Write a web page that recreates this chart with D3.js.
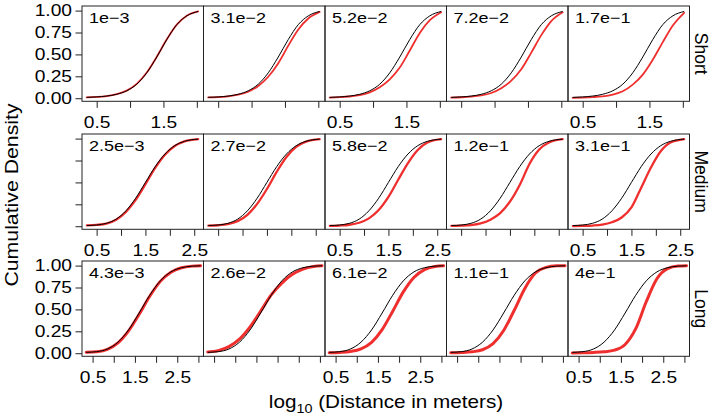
<!DOCTYPE html>
<html><head><meta charset="utf-8">
<script src="https://cdn.jsdelivr.net/npm/d3@7"></script>
<style>
body{margin:0;background:#fff}
svg{display:block}
text{font-family:"Liberation Sans",Arial,Helvetica,sans-serif}
</style>
</head><body>
<svg id="c" width="714" height="416"></svg>
<script>
// ---------- data ----------
const rowNames = ["Short", "Medium", "Long"];
const panelLabels = [
  ["1e\u22123", "3.1e\u22122", "5.2e\u22122", "7.2e\u22122", "1.7e\u22121"],
  ["2.5e\u22123", "2.7e\u22122", "5.8e\u22122", "1.2e\u22121", "3.1e\u22121"],
  ["4.3e\u22123", "2.6e\u22122", "6.1e\u22122", "1.1e\u22121", "4e\u22121"]
];
const xDomains = [[0.28, 2.10], [0.2, 2.69], [0.25, 3.12]];
const xTicks = [[0.5, 1, 1.5, 2], [0.5, 1, 1.5, 2, 2.5], [0.5, 1, 1.5, 2, 2.5, 3]];
const xTickLabels = [[0.5, 1.5], [0.5, 1.5, 2.5], [0.5, 1.5, 2.5]];
const yTicks = [0, 0.25, 0.5, 0.75, 1];
const yTickLabels = ["0.00", "0.25", "0.50", "0.75", "1.00"];
const yLabelRows = [true, false, true];

const xShort = [0.35, 0.5, 0.65, 0.8, 0.95, 1.1, 1.25, 1.4, 1.55, 1.7, 1.85, 2.02];
const blackShort = [0.01, 0.015, 0.025, 0.045, 0.085, 0.16, 0.29, 0.47, 0.67, 0.84, 0.94, 0.99];
const redShort = [
  [0.01, 0.015, 0.025, 0.046, 0.087, 0.163, 0.293, 0.473, 0.672, 0.84, 0.94, 0.99],
  [0.009, 0.013, 0.022, 0.04, 0.074, 0.14, 0.245, 0.4, 0.6, 0.785, 0.91, 0.985],
  [0.008, 0.012, 0.02, 0.035, 0.067, 0.125, 0.215, 0.35, 0.545, 0.745, 0.89, 0.982],
  [0.007, 0.011, 0.018, 0.032, 0.06, 0.115, 0.2, 0.33, 0.52, 0.72, 0.88, 0.98],
  [0.005, 0.008, 0.013, 0.022, 0.042, 0.08, 0.155, 0.27, 0.44, 0.64, 0.83, 0.975]
];

const xMedium = [0.3, 0.5, 0.7, 0.9, 1.1, 1.3, 1.5, 1.7, 1.9, 2.1, 2.3, 2.58];
const blackMedium = [0.008, 0.014, 0.033, 0.081, 0.176, 0.32, 0.5, 0.68, 0.824, 0.919, 0.969, 0.994];
const redMedium = [
  [0.009, 0.015, 0.03, 0.074, 0.163, 0.30, 0.48, 0.665, 0.815, 0.915, 0.968, 0.994],
  [0.006, 0.011, 0.024, 0.058, 0.13, 0.255, 0.425, 0.62, 0.79, 0.905, 0.965, 0.994],
  [0.004, 0.008, 0.017, 0.04, 0.09, 0.185, 0.335, 0.53, 0.72, 0.87, 0.955, 0.993],
  [0.003, 0.006, 0.013, 0.032, 0.075, 0.15, 0.28, 0.47, 0.71, 0.875, 0.955, 0.993],
  [0.002, 0.004, 0.008, 0.018, 0.045, 0.1, 0.215, 0.44, 0.67, 0.855, 0.955, 0.995]
];

const xLong = [0.35, 0.6, 0.85, 1.1, 1.35, 1.6, 1.85, 2.1, 2.35, 2.6, 2.85, 3.05];
const blackLong = [0.01, 0.018, 0.048, 0.126, 0.266, 0.459, 0.662, 0.826, 0.928, 0.976, 0.994, 0.998];
const redLong = [
  [0.01, 0.017, 0.045, 0.118, 0.255, 0.445, 0.65, 0.82, 0.925, 0.975, 0.994, 0.998],
  [0.015, 0.03, 0.075, 0.16, 0.3, 0.48, 0.665, 0.8, 0.9, 0.96, 0.99, 0.998],
  [0.005, 0.009, 0.02, 0.05, 0.125, 0.27, 0.48, 0.7, 0.865, 0.955, 0.99, 0.998],
  [0.005, 0.008, 0.016, 0.04, 0.11, 0.26, 0.49, 0.74, 0.915, 0.98, 0.997, 0.999],
  [0.003, 0.005, 0.009, 0.016, 0.035, 0.1, 0.28, 0.59, 0.85, 0.965, 0.995, 0.999]
];

const rowData = [
  { x: xShort, black: blackShort, red: redShort },
  { x: xMedium, black: blackMedium, red: redMedium },
  { x: xLong, black: blackLong, red: redLong }
];

// ---------- layout ----------
const svg = d3.select("#c");
const L = 82, PW = 121.5, PH = 95.3;
const rowTop = [6, 134, 261];
const yDomain = [-0.035, 1.0525];
const redWidth = [1.8, 2.3, 3];
const SX = 1.2;
const FONT = '"Liberation Sans",Arial,Helvetica,sans-serif';

rowNames.forEach((rn, r) => {
  const y = d3.scaleLinear().domain(yDomain).range([rowTop[r] + PH, rowTop[r]]);
  const xs = rowData[r].x;
  for (let c = 0; c < 5; c++) {
    const x0 = L + c * PW;
    const x = d3.scaleLinear().domain(xDomains[r]).range([x0, x0 + PW]);
    const line = d3.line().x((d, i) => x(xs[i])).y(d => y(d)).curve(d3.curveMonotoneX);
    const g = svg.append("g");
    g.append("path").attr("d", line(rowData[r].red[c]))
      .attr("fill", "none").attr("stroke", "#ee1c1c").attr("stroke-opacity", 0.92)
      .attr("stroke-width", redWidth[r]).attr("stroke-linecap", "round");
    g.append("path").attr("d", line(rowData[r].black))
      .attr("fill", "none").attr("stroke", "#000").attr("stroke-width", 1);
    g.append("rect").attr("x", x0).attr("y", rowTop[r]).attr("width", PW).attr("height", PH)
      .attr("fill", "none").attr("stroke", "#222").attr("stroke-width", 1);
    g.append("text").attr("transform", `translate(${x0 + 7},${rowTop[r] + 17}) scale(${SX},1)`)
      .attr("font-size", 15).attr("fill", "#000").text(panelLabels[r][c]);

    // x axis
    const ax = d3.axisBottom(x).tickValues(xTicks[r]).tickSize(6.5)
      .tickFormat(d => (c % 2 === 0 && xTickLabels[r].includes(d)) ? d3.format(".1f")(d) : "");
    const ag = svg.append("g").attr("transform", `translate(0,${rowTop[r] + PH})`).call(ax);
    ag.select(".domain").remove();
    ag.selectAll("line").attr("stroke", "#222");
    ag.selectAll("text").attr("font-size", 16).attr("font-family", FONT).attr("fill", "#000")
      .attr("dy", null).attr("y", 27).attr("transform", `scale(${SX},1)`);

    if (c === 0) {
      const ay = d3.axisLeft(y).tickValues(yTicks).tickSize(6.5)
        .tickFormat((d, i) => yLabelRows[r] ? yTickLabels[i] : "");
      const yg = svg.append("g").attr("transform", `translate(${x0},0)`).call(ay);
      yg.select(".domain").remove();
      yg.selectAll("line").attr("stroke", "#222");
      yg.selectAll("text").attr("font-size", 16).attr("font-family", FONT).attr("fill", "#000")
        .attr("x", -10 / SX).attr("transform", `scale(${SX},1)`);
    }
  }
  // strip label on right
  svg.append("text")
    .attr("transform", `translate(695,${rowTop[r] + PH / 2}) rotate(90)`)
    .attr("text-anchor", "middle").attr("font-size", 17.5).attr("fill", "#000").text(rn);
});

// axis titles
svg.append("text")
  .attr("transform", "translate(18,195) rotate(-90) scale(1.12,1)")
  .attr("text-anchor", "middle").attr("font-size", 19).attr("fill", "#000")
  .text("Cumulative Density");

const xt = svg.append("text")
  .attr("transform", `translate(386,408) scale(1.15,1)`)
  .attr("text-anchor", "middle").attr("font-size", 18).attr("fill", "#000");
xt.append("tspan").text("log");
xt.append("tspan").attr("font-size", 12.5).attr("dy", 4.5).text("10");
xt.append("tspan").attr("dy", -4.5).text(" (Distance in meters)");
</script>
</body></html>
